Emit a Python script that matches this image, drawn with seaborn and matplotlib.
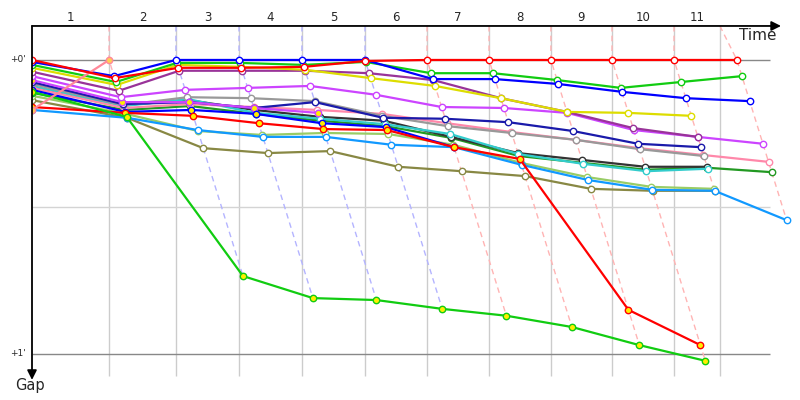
import matplotlib
matplotlib.use('Agg')
import matplotlib.pyplot as plt
import pandas as pd
import seaborn as sns

# leader's crossing time for every lap (s), lap 0 is the start
leader_time = [0, 50.7, 94.7, 136.2, 177.6, 219.1, 259.9, 300.7, 341.4, 381.6, 422.4, 463.8]
# grey lap marks on the time axis
lap_marks = [50.7, 94.7, 136.2, 177.6, 219.1, 259.9, 300.7, 341.4, 381.6, 422.4, 452.6]
lap_labels = ['1', '2', '3', '4', '5', '6', '7', '8', '9', '10', '11']

# gap to the leader (s) at the end of each lap, starting with lap 0
gap_red = [0, 3.7, 1.6, 1.6, 1.4, 0.2, 0, 0, 0, 0, 0, 0]
gap_blue = [0.4, 3.3, 0, 0, 0, 0, 3.9, 3.9, 4.9, 6.5, 7.8, 8.4]
gap_green = [1.0, 4.5, 0.6, 0.6, 1.0, 0.4, 2.7, 2.7, 4.1, 5.7, 4.5, 3.3]
gap_yellow = [1.6, 5.1, 1.0, 1.4, 2.0, 3.7, 5.3, 7.8, 10.6, 10.8, 11.4]
gap_purple = [2.4, 6.3, 2.2, 2.2, 2.2, 2.7, 4.1, 7.8, 10.6, 13.9, 15.7]
gap_violet = [3.3, 7.6, 6.1, 5.7, 5.3, 7.1, 9.6, 9.8, 10.8, 14.3, 15.7, 17.1]
gap_navy = [4.5, 9.0, 8.6, 9.8, 8.6, 11.8, 12.0, 12.7, 14.5, 17.1, 17.8]
gap_grey = [4.9, 9.2, 7.6, 7.8, 8.4, 11.4, 13.5, 14.9, 16.3, 18.2, 19.6]
gap_pink = [5.7, 9.8, 9.0, 9.6, 10.2, 11.0, 12.9, 14.7, 16.3, 18.0, 19.4, 20.8]
gap_teal = [5.3, 9.4, 8.0, 10.8, 12.0, 13.1, 15.1, 19.2, 21.2, 22.7, 22.2]
gap_black = [5.5, 9.2, 8.2, 10.2, 11.6, 12.4, 15.7, 19.0, 20.4, 21.8, 21.8]
gap_darkgreen = [6.7, 10.2, 9.4, 11.0, 12.4, 13.5, 15.9, 19.6, 21.0, 22.4, 22.0, 22.9]
gap_skyblue = [10.2, 11.8, 14.3, 15.7, 15.7, 17.3, 17.8, 21.4, 24.5, 26.5, 26.7, 32.7]
gap_lightgreen = [7.3, 11.0, 14.5, 15.3, 14.9, 15.1, 17.3, 21.0, 23.9, 25.9, 26.3]
gap_olive = [8.2, 11.8, 18.0, 19.0, 18.6, 21.8, 22.7, 23.7, 26.3, 26.7, 26.7]
gap_green2 = [6.5, 11.6, 44.1, 48.6, 49.0, 50.8, 52.2, 54.5, 58.2, 61.4]
gap_red2 = [9.6, 10.8, 11.4, 12.9, 14.1, 14.3, 17.8, 20.2, 51.0, 58.2]
gap_blue2 = [6.1, 10.6, 10.2, 11.0, 12.9, 13.7, 17.8]
gap_violet2 = [4.1, 8.6, 8.6, 9.8, 10.8]
gap_salmon = [10.2, 0]

# name, gaps, line colour, marker fill
cars = [
    ('olive', gap_olive, '#888844', 'white'),
    ('lightgreen', gap_lightgreen, '#99cc66', 'white'),
    ('skyblue', gap_skyblue, '#1199ff', 'white'),
    ('darkgreen', gap_darkgreen, '#229922', 'white'),
    ('black', gap_black, '#333333', 'white'),
    ('teal', gap_teal, '#33cccc', 'white'),
    ('pink', gap_pink, '#ff88aa', 'white'),
    ('grey', gap_grey, '#999999', 'white'),
    ('navy', gap_navy, '#1a1aaa', 'white'),
    ('violet2', gap_violet2, '#cc44ff', '#ffee00'),
    ('violet', gap_violet, '#cc44ff', 'white'),
    ('purple', gap_purple, '#993399', 'white'),
    ('yellow', gap_yellow, '#dddd00', 'white'),
    ('blue2', gap_blue2, '#0000ff', '#ffee00'),
    ('green', gap_green, '#11cc11', 'white'),
    ('blue', gap_blue, '#0000ff', 'white'),
    ('red2', gap_red2, '#ff0000', '#ffee00'),
    ('green2', gap_green2, '#11cc11', '#ffee00'),
    ('salmon', gap_salmon, '#ff8899', '#ffcc55'),
    ('red', gap_red, '#ff0000', 'white'),
]
lap_line_colors = ['#ffb0b8'] + ['#b4b4ff'] * 4 + ['#ffb4b4'] * 6

rows = []
for name, gaps, _, _ in cars:
    for lap, g in enumerate(gaps):
        t = 0 if lap == 0 else leader_time[lap] + g
        rows.append({'car': name, 'lap': lap, 'gap': g, 'time': t})
df = pd.DataFrame(rows)

sns.set_style('white')
fig = plt.figure(figsize=(8, 4), dpi=100)
ax = fig.add_axes([0.04, 0, 0.96, 1])
top, bottom, t_end = -6.94, 64.5, 485.5

# grid
ax.vlines(lap_marks, top, bottom, color='#cccccc', lw=1, zorder=0)
ax.hlines(30, 0, t_end, color='#d4d4d4', lw=1, zorder=0)
ax.hlines([0, 60], 0, t_end, color='#888888', lw=1, zorder=0)

# dashed lines joining the crossings of the same lap
for lap in range(1, 12):
    pts = df[df.lap == lap].sort_values('gap')
    xs = [lap_marks[lap - 1]] + list(pts.time)
    ys = [top] + list(pts.gap)
    ax.plot(xs, ys, color=lap_line_colors[lap - 1], lw=1, ls=(0, (4, 3)), zorder=1)

for name, _, col, face in cars:
    sns.lineplot(data=df[df.car == name], x='time', y='gap', ax=ax, color=col,
                 lw=1.6, marker='o', markersize=4.6, markerfacecolor=face,
                 markeredgecolor=col, markeredgewidth=1.0, estimator=None,
                 sort=False, legend=False, zorder=3)
ax.set_xlim(0, 505.3)
ax.set_ylim(69.4, -12.24)
ax.axis('off')

# axes with arrows
arrow = dict(arrowstyle='-|>', color='black', lw=1.3, mutation_scale=14, shrinkA=0, shrinkB=0)
ax.annotate('', xy=(492.8, top), xytext=(0, top), arrowprops=arrow, annotation_clip=False, zorder=5)
ax.annotate('', xy=(0, 65.3), xytext=(0, top), arrowprops=arrow, annotation_clip=False, zorder=5)
ax.text(477.6, -5.0, 'Time', fontsize=11, ha='center', va='center')
ax.text(-1.3, 66.5, 'Gap', fontsize=10.5, ha='center', va='center')
ax.text(-9.5, 0, "+0'", fontsize=6.5, ha='center', va='center')
ax.text(-9.5, 60, "+1'", fontsize=6.5, ha='center', va='center')

edges = [0] + lap_marks
for i, lab in enumerate(lap_labels):
    ax.text((edges[i] + edges[i + 1]) / 2, -8.7, lab, fontsize=8.5, ha='center', va='center')

fig.savefig('out.png', dpi=100)
